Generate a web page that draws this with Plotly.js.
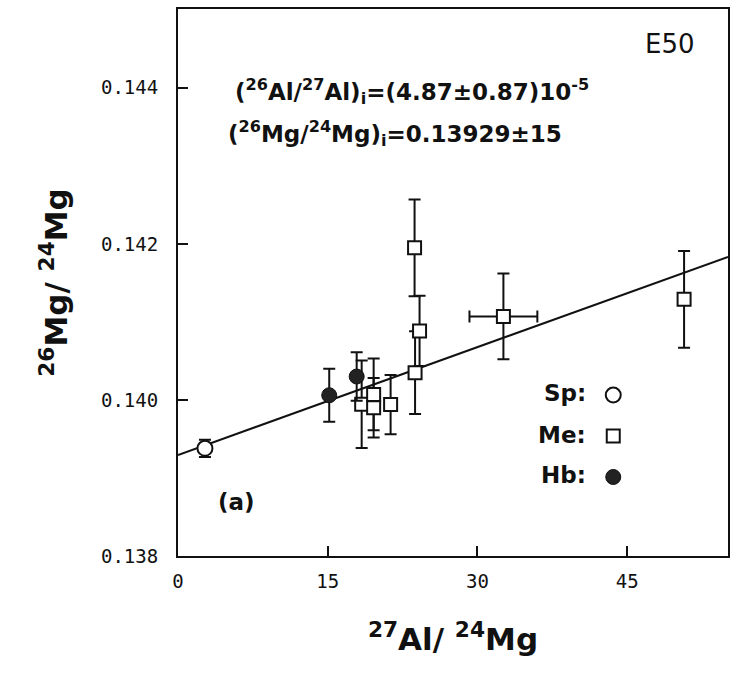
<!DOCTYPE html>
<html>
<head>
<meta charset="utf-8">
<script src="https://cdn.plot.ly/plotly-3.0.1.min.js"></script>
<style>html,body{margin:0;padding:0;background:#fff;}</style>
</head>
<body>
<div id="chart" style="width:741px;height:679px;"></div>
<script>
// Spinel (Sp)
const spX = [2.7];
const spY = [0.13938];
const spErr = [0.00011];
// Melilite (Me)
const meX = [18.4, 19.6, 19.6, 21.3, 23.7, 24.2, 23.75, 32.6, 50.7];
const meY = [0.139945, 0.14007, 0.13990, 0.13994, 0.14195, 0.140885, 0.14035, 0.14107, 0.14129];
const meErrY = [0.00056, 0.00046, 0.00038, 0.00038, 0.00062, 0.00045, 0.00053, 0.00055, 0.00062];
const meErrX = [0, 0, 0, 0, 0, 0, 0, 3.4, 0];
// Hibonite (Hb)
const hbX = [15.15, 17.9];
const hbY = [0.14006, 0.14030];
const hbErr = [0.00034, 0.00031];
// Isochron line end points
const lineX = [0, 55.1];
const lineY = [0.139295, 0.141833];
// Axis ticks
const xTicks = [0, 15, 30, 45];
const yTicks = [0.138, 0.140, 0.142, 0.144];

const ink = '#111';
const errStyle = {thickness: 2, width: 6, color: ink};

const traces = [
  {x: lineX, y: lineY, mode: 'lines', line: {color: ink, width: 2}, showlegend: false, hoverinfo: 'skip'},
  {x: spX, y: spY, mode: 'markers', name: ' ', legendgroup: 'sp',
   error_y: Object.assign({type: 'data', array: spErr}, errStyle),
   marker: {symbol: 'circle', size: 15, color: '#fff', line: {color: ink, width: 2}}},
  {x: meX, y: meY, mode: 'markers', name: ' ', legendgroup: 'me',
   error_y: Object.assign({type: 'data', array: meErrY}, errStyle),
   error_x: Object.assign({type: 'data', array: meErrX}, errStyle),
   marker: {symbol: 'square', size: 13, color: '#fff', line: {color: ink, width: 2}}},
  {x: hbX, y: hbY, mode: 'markers', name: ' ', legendgroup: 'hb',
   error_y: Object.assign({type: 'data', array: hbErr}, errStyle),
   marker: {symbol: 'circle', size: 15, color: '#222', line: {color: ink, width: 1}}}
];

const tickFont = {family: 'DejaVu Sans Mono', size: 19, color: ink};
const titleFont = {family: 'DejaVu Sans', size: 31, color: ink, weight: 'bold'};
const annFont = {family: 'DejaVu Sans', size: 23, color: ink, weight: 'bold'};

const layout = {
  width: 741, height: 679,
  margin: {l: 178, r: 13, t: 9, b: 123, pad: 0},
  paper_bgcolor: '#fff', plot_bgcolor: '#fff',
  showlegend: true,
  legend: {x: 0.755, y: 0.33, xanchor: 'left', yanchor: 'top', bgcolor: 'rgba(0,0,0,0)',
           font: {family: 'DejaVu Sans', size: 20, color: ink}, tracegroupgap: 12, itemwidth: 30},
  xaxis: {range: [0, 55.1], tickmode: 'array', tickvals: xTicks, ticktext: xTicks.map(String),
          ticks: 'inside', ticklen: 10, tickwidth: 2, tickcolor: ink,
          showline: true, linecolor: ink, linewidth: 2, mirror: true,
          showgrid: false, zeroline: false, tickfont: tickFont, ticklabelstandoff: 7,
          title: {text: '<sup>27</sup>Al/ <sup>24</sup>Mg', font: titleFont, standoff: 38}},
  yaxis: {range: [0.138, 0.14501], tickmode: 'array', tickvals: yTicks, ticktext: yTicks.map(v => v.toFixed(3)),
          ticks: 'inside', ticklen: 10, tickwidth: 2, tickcolor: ink,
          showline: true, linecolor: ink, linewidth: 2, mirror: true,
          showgrid: false, zeroline: false, tickfont: tickFont, ticklabelstandoff: 14,
          title: {text: '<sup>26</sup>Mg/ <sup>24</sup>Mg', font: titleFont, standoff: 24}},
  annotations: [
    {xref: 'paper', yref: 'paper', x: 0.8945, y: 0.936, text: 'E50', showarrow: false,
     font: {family: 'DejaVu Sans', size: 26, color: ink}, xanchor: 'center', yanchor: 'middle'},
    {xref: 'paper', yref: 'paper', x: 0.1, y: 0.85, showarrow: false, xanchor: 'left', yanchor: 'middle',
     text: '(<sup>26</sup>Al/<sup>27</sup>Al)<sub>i</sub>=(4.87±0.87)10<sup>-5</sup>', font: annFont},
    {xref: 'paper', yref: 'paper', x: 0.088, y: 0.772, showarrow: false, xanchor: 'left', yanchor: 'middle',
     text: '(<sup>26</sup>Mg/<sup>24</sup>Mg)<sub>i</sub>=0.13929±15', font: annFont},
    {xref: 'paper', yref: 'paper', x: 0.1055, y: 0.0987, showarrow: false, xanchor: 'center', yanchor: 'middle',
     text: '(a)', font: annFont},
    {xref: 'paper', yref: 'paper', x: 0.745, y: 0.298, showarrow: false, xanchor: 'right', yanchor: 'middle',
     text: 'Sp:', font: annFont},
    {xref: 'paper', yref: 'paper', x: 0.745, y: 0.221, showarrow: false, xanchor: 'right', yanchor: 'middle',
     text: 'Me:', font: annFont},
    {xref: 'paper', yref: 'paper', x: 0.745, y: 0.148, showarrow: false, xanchor: 'right', yanchor: 'middle',
     text: 'Hb:', font: annFont}
  ]
};

Plotly.newPlot('chart', traces, layout, {staticPlot: true, displayModeBar: false});
</script>
</body>
</html>
